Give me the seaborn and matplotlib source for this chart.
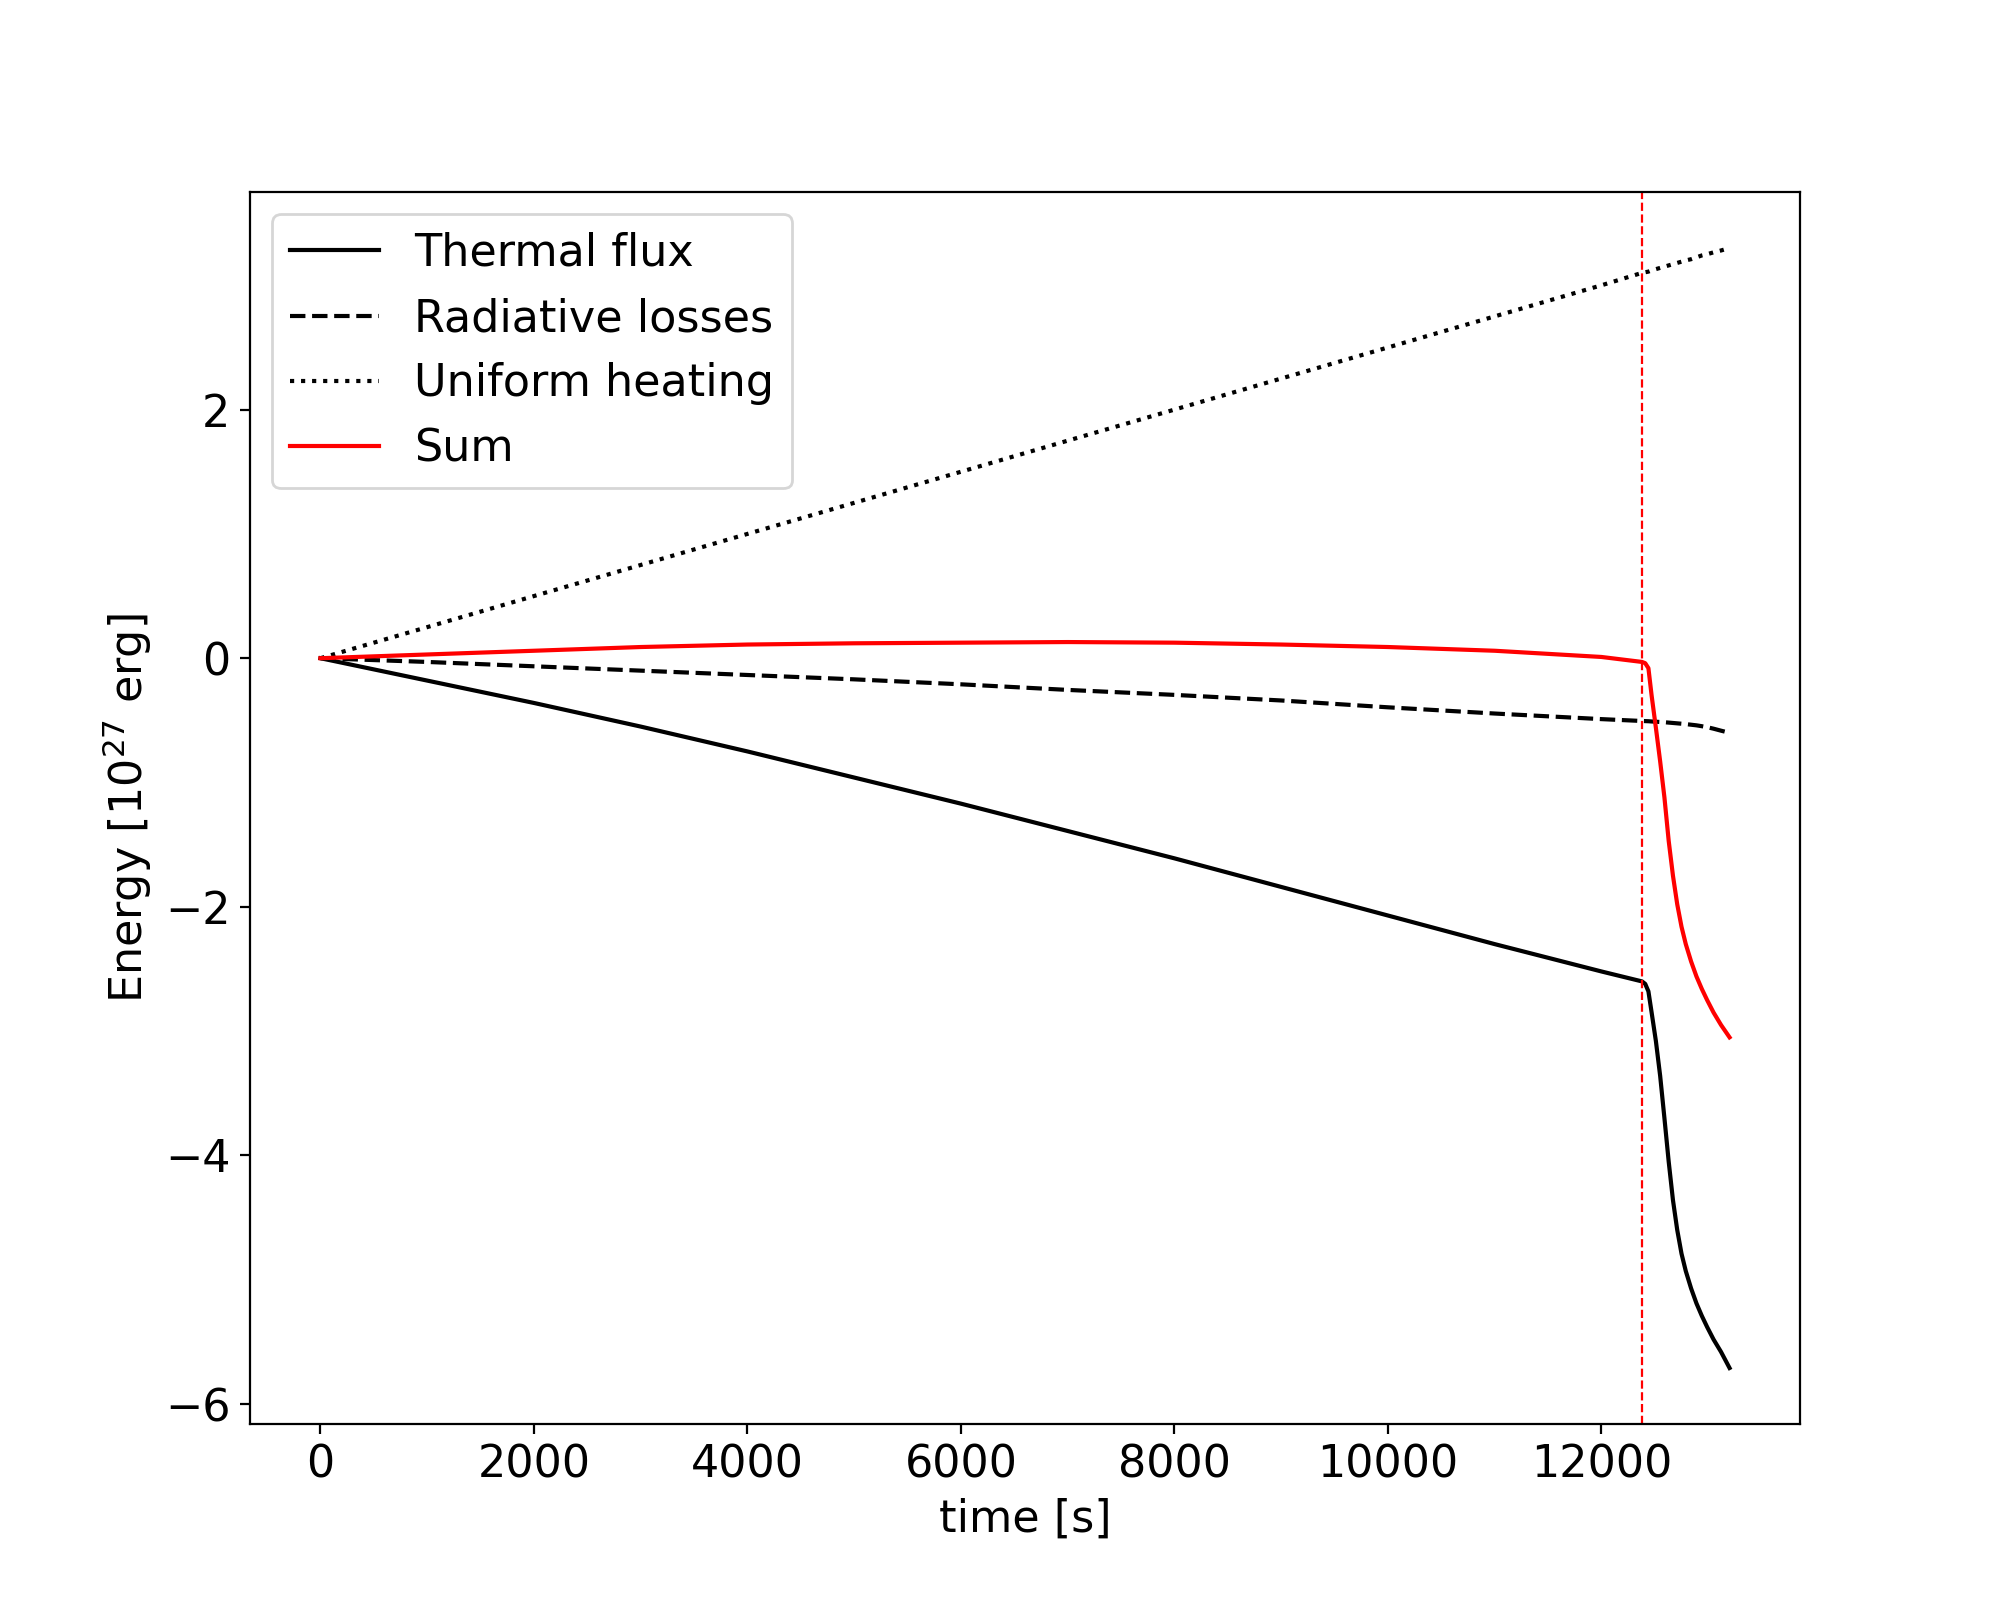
import numpy as np
import pandas as pd
import matplotlib
matplotlib.use('Agg')
import matplotlib.pyplot as plt
import seaborn as sns

# time samples [s]
time = [0, 1000, 2000, 3000, 4000, 5000, 6000, 7000, 8000, 9000, 10000,
        11000, 12000, 12380, 12410, 12440, 12470, 12510, 12550, 12590,
        12630, 12670, 12710, 12750, 12790, 12840, 12890, 12940, 12990,
        13050, 13120, 13200]

# energies in 1e27 erg
thermal_flux = [0, -0.18, -0.36, -0.55, -0.75, -0.96, -1.17, -1.39, -1.61,
                -1.84, -2.07, -2.30, -2.52, -2.60, -2.62, -2.68, -2.85,
                -3.08, -3.36, -3.70, -4.05, -4.36, -4.60, -4.79, -4.93,
                -5.07, -5.19, -5.29, -5.38, -5.48, -5.58, -5.71]
radiative_losses = [0, -0.03, -0.065, -0.10, -0.135, -0.17, -0.21, -0.255,
                    -0.295, -0.34, -0.395, -0.445, -0.49, -0.505, -0.506,
                    -0.507, -0.509, -0.511, -0.513, -0.515, -0.518, -0.521,
                    -0.524, -0.527, -0.53, -0.535, -0.54, -0.547, -0.555,
                    -0.567, -0.583, -0.60]
uniform_heating = [0, 0.25, 0.50, 0.75, 1.00, 1.25, 1.50, 1.75, 2.00, 2.25,
                   2.50, 2.75, 3.00, 3.10, 3.105, 3.11, 3.12, 3.13, 3.14,
                   3.15, 3.16, 3.17, 3.18, 3.19, 3.20, 3.21, 3.225, 3.24,
                   3.25, 3.265, 3.28, 3.30]
energy_sum = [0, 0.03, 0.06, 0.09, 0.11, 0.12, 0.125, 0.13, 0.125, 0.11,
              0.09, 0.06, 0.01, -0.03, -0.04, -0.08, -0.30, -0.56, -0.83,
              -1.12, -1.47, -1.75, -1.98, -2.16, -2.30, -2.44, -2.56,
              -2.66, -2.75, -2.85, -2.95, -3.05]

t_marker = 12380

series = [
    ('Thermal flux', thermal_flux, 'k', '-'),
    ('Radiative losses', radiative_losses, 'k', '--'),
    ('Uniform heating', uniform_heating, 'k', ':'),
    ('Sum', energy_sum, 'r', '-'),
]

fig, ax = plt.subplots(figsize=(10, 8), dpi=200)

for name, vals, col, ls in series:
    df = pd.DataFrame({'time': time, 'energy': vals})
    sns.lineplot(data=df, x='time', y='energy', ax=ax, color=col,
                 linestyle=ls, label=name, linewidth=1.5)

ax.axvline(t_marker, color='r', linestyle='--', linewidth=0.8)

ax.set_xlabel('time [s]', fontsize=16)
ax.set_ylabel('Energy [$10^{27}$ erg]', fontsize=16)
ax.tick_params(labelsize=16)
ax.legend(loc='upper left', fontsize=16)

plt.savefig('out.png', dpi=200)
plt.close()
